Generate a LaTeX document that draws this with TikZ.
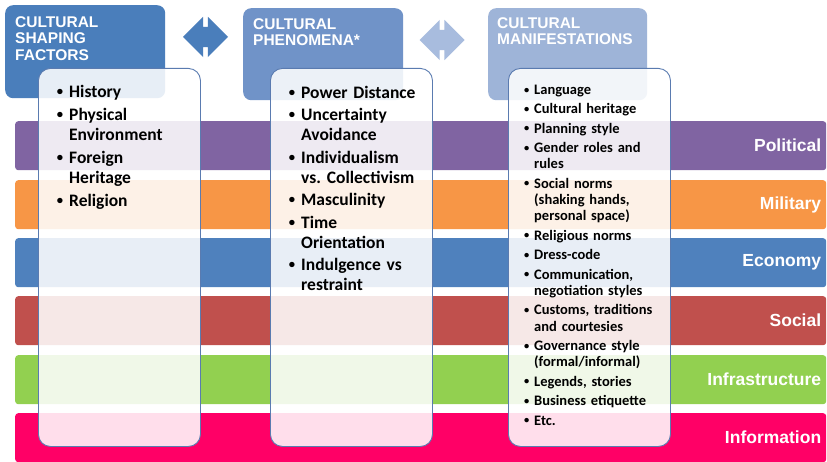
\documentclass[tikz,border=0pt]{standalone}
\usepackage{fontspec}
\setmainfont{Carlito}
\newfontfamily\headfont{Liberation Sans}
\usepackage{enumitem}
\usetikzlibrary{shapes.arrows}

\definecolor{politicalc}{HTML}{8064A2}
\definecolor{militaryc}{HTML}{F79646}
\definecolor{economyc}{HTML}{4F81BD}
\definecolor{socialc}{HTML}{C0504D}
\definecolor{infrac}{HTML}{92D050}
\definecolor{infoc}{HTML}{FF0066}
\definecolor{headA}{HTML}{4A7EBB}
\definecolor{headB}{HTML}{7093C8}
\definecolor{headC}{HTML}{9EB4D8}
\definecolor{arrowB}{HTML}{A8BCDE}
\definecolor{boxline}{HTML}{5A7BB0}

\newcommand{\smallbullet}{\raisebox{0.1em}{\scalebox{0.72}{\textbullet}}}
\setlist[itemize]{label=\smallbullet, leftmargin=12pt, labelsep=6pt, topsep=0pt, partopsep=0pt, parsep=0pt, itemsep=2pt}

\tikzset{
  band/.style={anchor=north west, minimum width=811pt, minimum height=49pt,
    rounded corners=3pt, inner xsep=5pt, text width=801pt, align=right,
    text=white, font=\headfont\bfseries\fontsize{17.5}{20}\selectfont},
  header/.style={anchor=north west, minimum width=160pt, minimum height=93pt,
    rounded corners=8pt, inner sep=0pt},
  headtext/.style={anchor=north west, align=left, inner sep=0pt, text=white,
    font=\headfont\bfseries\fontsize{15.5}{16.5}\selectfont},
  swap/.style={double arrow, double arrow head extend=10pt, inner xsep=0pt,
    inner ysep=10pt, minimum height=45pt},
  listbox/.style={anchor=north west, minimum width=162pt, minimum height=378pt,
    rounded corners=12pt, draw=boxline, line width=0.9pt, fill=white, fill opacity=0.87},
  bigtext/.style={anchor=north west, inner sep=0pt, text width=150pt,
    font=\bfseries\fontsize{17.5}{20}\selectfont},
  smalltext/.style={anchor=north west, inner sep=0pt, text width=150pt,
    font=\bfseries\fontsize{14.5}{16.3}\selectfont},
}

\begin{document}
\begin{tikzpicture}[x=1pt,y=-1pt]
    \useasboundingbox[fill=white] (0,0) rectangle (827,462);

    % Domain bands
    \node[band, fill=politicalc] (political) at (15,121) {Political};
    \node[band, fill=militaryc] (military) at (15,180) {Military};
    \node[band, fill=economyc] (economy) at (15,238) {Economy};
    \node[band, fill=socialc] (social) at (15,296) {Social};
    \node[band, fill=infrac] (infra) at (15,355) {Infrastructure};
    \node[band, fill=infoc] (info) at (15,413) {Information};

    % Headers
    \node[header, fill=headA] (shaping) at (5,5) {};
    \node[header, fill=headB, minimum height=92pt] (phenomena) at (243,8) {};
    \node[header, fill=headC, minimum height=92pt, minimum width=159pt] (manif) at (488,8) {};
    \node[headtext] (shapingTitle) at ([shift={(10,11)}]shaping.north west) {CULTURAL\\SHAPING\\FACTORS};
    \node[headtext] (phenomenaTitle) at ([shift={(10,10)}]phenomena.north west) {CULTURAL\\PHENOMENA*};
    \node[headtext] (manifTitle) at ([shift={(9,9)}]manif.north west) {CULTURAL\\MANIFESTATIONS};

    % Double arrows between headers
    \node[swap, fill=headA] (swapA) at (205.5,37) {};
    \node[swap, fill=arrowB] (swapB) at (442,40) {};

    % List boxes
    \node[listbox] (shapingBox) at (38,68) {};
    \node[listbox] (phenomenaBox) at (270,68) {};
    \node[listbox] (manifBox) at (508,68) {};

    % Lists
    \node[bigtext] (shapingList) at (57,77) {%
      \begin{itemize}[itemsep=3pt]
        \item History
        \item Physical\\Environment
        \item Foreign\\Heritage
        \item Religion
      \end{itemize}};
    \node[bigtext] (phenomenaList) at (289,78) {%
      \begin{itemize}[itemsep=2.5pt]
        \item Power Distance
        \item Uncertainty\\Avoidance
        \item Individualism\\vs.\ Collectivism
        \item Masculinity
        \item Time\\Orientation
        \item Indulgence vs\\restraint
      \end{itemize}};
    \node[smalltext] (manifList) at (522,78) {%
      \begin{itemize}[itemsep=3.1pt, leftmargin=12pt, labelsep=5pt]
        \item Language
        \item Cultural heritage
        \item Planning style
        \item Gender roles and\\rules
        \item Social norms\\(shaking hands,\\personal space)
        \item Religious norms
        \item Dress-code
        \item Communication,\\negotiation styles
        \item Customs, traditions\\and courtesies
        \item Governance style\\(formal/informal)
        \item Legends, stories
        \item Business etiquette
        \item Etc.
      \end{itemize}};
\end{tikzpicture}
\end{document}
